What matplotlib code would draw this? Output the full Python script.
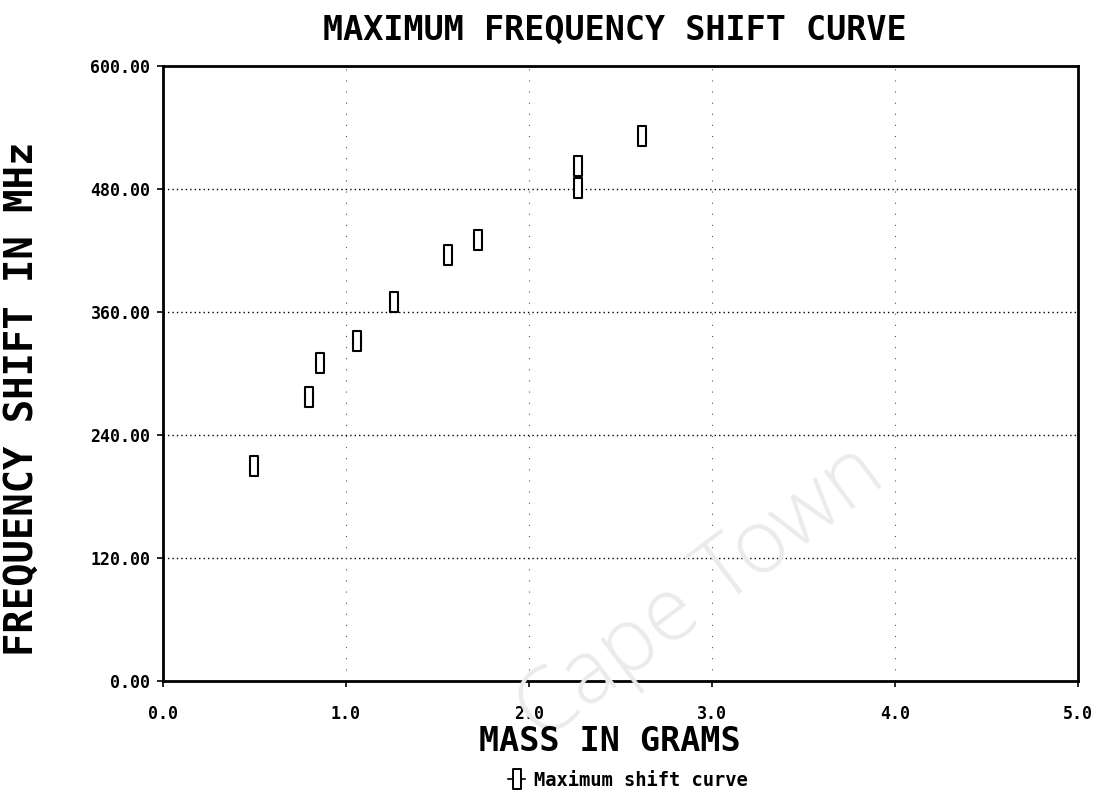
import matplotlib
matplotlib.use("Agg")
import matplotlib.pyplot as plt
from matplotlib.path import Path
from matplotlib.lines import Line2D

# Measured frequency shift versus added mass
mass_g = [0.50, 0.80, 0.86, 1.06, 1.26, 1.56, 1.72, 2.27, 2.27, 2.62]
shift_mhz = [210, 277, 310, 332, 370, 416, 430, 502, 481, 532]

x_ticks = [0.0, 1.0, 2.0, 3.0, 4.0, 5.0]
y_ticks = [0, 120, 240, 360, 480, 600]

mono = ["DejaVu Sans Mono"]

# tall, narrow open box used as the plotting symbol
box = Path([(-0.38, -1), (0.38, -1), (0.38, 1), (-0.38, 1), (-0.38, -1)],
           [Path.MOVETO, Path.LINETO, Path.LINETO, Path.LINETO, Path.CLOSEPOLY])

fig = plt.figure(figsize=(11.04, 7.97), dpi=100)
ax = fig.add_axes([0.1476, 0.1455, 0.8288, 0.7717])

ax.set_xlim(0, 5)
ax.set_ylim(0, 600)
ax.set_xticks(x_ticks)
ax.set_yticks(y_ticks)
ax.set_xticklabels([f"{v:.1f}" for v in x_ticks], family=mono, weight="bold", fontsize=12)
ax.set_yticklabels([f"{v:.2f}" for v in y_ticks], family=mono, weight="bold", fontsize=12)
ax.tick_params(axis="both", direction="out", length=4, width=1.2, color="black")
ax.tick_params(axis="x", pad=13)
ax.tick_params(axis="y", pad=5)

for s in ax.spines.values():
    s.set_linewidth(2.0)
    s.set_color("black")

# dotted grid: dense horizontal rows, sparse vertical columns
for yv in y_ticks[1:-1]:
    ax.axhline(yv, color="black", lw=1.0, ls=(0, (1, 2.2)), zorder=1)
for xv in x_ticks[1:-1]:
    ax.axvline(xv, color="#555555", lw=0.8, ls=(0, (1, 9)), zorder=1)

ax.plot(mass_g, shift_mhz, ls="none", marker=box, markersize=15,
        markerfacecolor="white", markeredgecolor="black", markeredgewidth=1.5,
        zorder=3)

fig.text(0.557, 0.962, "MAXIMUM FREQUENCY SHIFT CURVE", ha="center", va="center",
         family=mono, weight="bold", fontsize=24)
fig.text(0.552, 0.070, "MASS IN GRAMS", ha="center", va="center",
         family=mono, weight="bold", fontsize=24)
fig.text(0.020, 0.500, "FREQUENCY SHIFT IN MHz", ha="center", va="center",
         rotation=90, family=mono, weight="bold", fontsize=28)

handle = Line2D([], [], color="black", lw=1.2, marker=box, markersize=15,
                markerfacecolor="white", markeredgecolor="black", markeredgewidth=1.4)
fig.legend([handle], ["Maximum shift curve"], loc="center", bbox_to_anchor=(0.569, 0.021),
           frameon=False, handlelength=0.9, handletextpad=0.5,
           prop={"family": mono, "weight": "bold", "size": 13.5})

# faint institutional watermark across the lower plot area
fig.text(0.635, 0.255, "Cape Town", ha="center", va="center", rotation=37,
         fontsize=64, color="#ebebeb", family=["Open Sans", "DejaVu Sans"],
         weight="light", zorder=0)

fig.savefig("out.png", dpi=100, facecolor="white")
